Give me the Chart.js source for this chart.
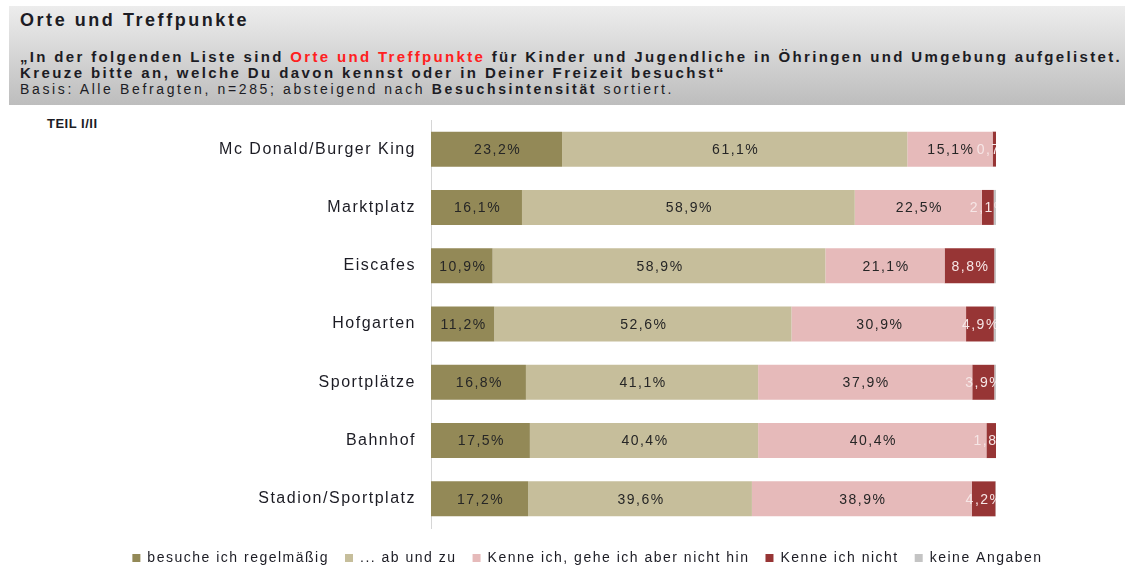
<!DOCTYPE html>
<html>
<head>
<meta charset="utf-8">
<script src="https://cdn.jsdelivr.net/npm/chart.js@4"></script>
<style>
  body { margin: 0; width: 1125px; height: 569px; background: #fff; position: relative; overflow: hidden; font-family: "Liberation Sans", Arial, sans-serif; color: #1c1c24; }
  #head { position: absolute; left: 9px; top: 6px; width: 1116px; height: 99px; background: linear-gradient(#ededed, #bdbdbd); }
  .ln { position: absolute; left: 11px; white-space: nowrap; display: inline-block; }
  #t0 { top: 4px; font-size: 18px; font-weight: bold; line-height: 20px; }
  #t1 { top: 42px; font-size: 15px; font-weight: bold; line-height: 17px; }
  #t2 { top: 58px; font-size: 15px; font-weight: bold; line-height: 17px; }
  #t3 { top: 75px; font-size: 14px; line-height: 16px; }
  .red { color: #ff2020; }
  #teil { position: absolute; left: 47px; top: 116px; font-size: 13px; font-weight: bold; letter-spacing: 0.5px; color: #1c1c24; }
  canvas { position: absolute; left: 0; top: 110px; }
</style>
</head>
<body>
<div id="head">
  <div class="ln" id="t0" data-w="229">Orte und Treffpunkte</div>
  <div class="ln" id="t1" data-w="1102">„In der folgenden Liste sind <span class="red">Orte und Treffpunkte</span> für Kinder und Jugendliche in Öhringen und Umgebung aufgelistet.</div>
  <div class="ln" id="t2" data-w="706">Kreuze bitte an, welche Du davon kennst oder in Deiner Freizeit besuchst“</div>
  <div class="ln" id="t3" data-w="654">Basis: Alle Befragten, n=285; absteigend nach <b>Besuchsintensität</b> sortiert.</div>
</div>
<div id="teil">TEIL I/II</div>
<canvas id="chart" width="1125" height="465"></canvas>
<script>
// stretch header lines to the widths seen in the picture
document.querySelectorAll('.ln').forEach(el => {
  const n = el.textContent.length
  const w = el.getBoundingClientRect().width
  el.style.letterSpacing = ((+el.dataset.w - w) / n) + 'px'
})

const categories = ['Mc Donald/Burger King', 'Marktplatz', 'Eiscafes', 'Hofgarten', 'Sportplätze', 'Bahnhof', 'Stadion/Sportplatz']
const seriesNames = ['besuche ich regelmäßig', '... ab und zu', 'Kenne ich, gehe ich aber nicht hin', 'Kenne ich nicht', 'keine Angaben']
const regelmaessig = [23.2, 16.1, 10.9, 11.2, 16.8, 17.5, 17.2]
const abUndZu = [61.1, 58.9, 58.9, 52.6, 41.1, 40.4, 39.6]
const nichtHin = [15.1, 22.5, 21.1, 30.9, 37.9, 40.4, 38.9]
const kenneNicht = [0.7, 2.1, 8.8, 4.9, 3.9, 1.8, 4.2]
const keineAngaben = [0, 0.4, 0.3, 0.4, 0.3, 0, 0.1]
const colors = ['#938957', '#c6be9b', '#e6baba', '#973535', '#c4c4c4']
const labelColors = ['#262626', '#262626', '#262626', '#f6e6e6', null]

const FONT = '"Liberation Sans", Arial, sans-serif'

const spacing = {
  id: 'spacing',
  beforeUpdate(chart) { chart.ctx.letterSpacing = '1.5px' },
  beforeDraw(chart) { chart.ctx.letterSpacing = '1.5px' }
}

const valueLabels = {
  id: 'valueLabels',
  afterDatasetsDraw(chart) {
    const ctx = chart.ctx
    const area = chart.chartArea
    ctx.save()
    ctx.beginPath()
    ctx.rect(area.left, area.top, area.right - area.left, area.bottom - area.top)
    ctx.clip()
    ctx.font = '14px ' + FONT
    ctx.letterSpacing = '1.5px'
    ctx.textAlign = 'center'
    ctx.textBaseline = 'middle'
    chart.data.datasets.forEach((ds, i) => {
      if (!labelColors[i]) return
      ctx.fillStyle = labelColors[i]
      chart.getDatasetMeta(i).data.forEach((bar, j) => {
        const v = ds.data[j]
        if (!v) return
        const x = (bar.x + bar.base) / 2
        ctx.fillText(v.toFixed(1).replace('.', ',') + '%', x + 1, bar.y + 1)
      })
    })
    ctx.restore()
  }
}

function noPad(scale) {
  scale.paddingTop = 0
  scale.paddingBottom = 0
  scale.paddingLeft = 0
  scale.paddingRight = 0
}

const allSeries = [regelmaessig, abUndZu, nichtHin, kenneNicht, keineAngaben]

new Chart(document.getElementById('chart'), {
  type: 'bar',
  data: {
    labels: categories,
    datasets: allSeries.map((d, i) => ({
      label: seriesNames[i],
      data: d,
      backgroundColor: colors[i],
      borderWidth: 0,
      categoryPercentage: 1,
      barPercentage: 0.6
    }))
  },
  options: {
    indexAxis: 'y',
    responsive: false,
    animation: false,
    devicePixelRatio: 1,
    layout: { padding: { left: 50, right: 0, top: 10, bottom: 0 } },
    scales: {
      x: {
        stacked: true, min: 0, max: 100,
        grid: { display: false },
        border: { display: false },
        ticks: { display: false },
        afterFit(scale) { noPad(scale); scale.height = 7 }
      },
      y: {
        stacked: true,
        grid: { display: false },
        border: { display: true, color: '#d6d6d6', width: 1 },
        ticks: { color: '#1c1c24', padding: 7, font: { size: 16, family: FONT } },
        afterFit(scale) { noPad(scale); scale.width = 381 }
      },
      yRight: {
        type: 'category',
        position: 'right',
        grid: { display: false },
        border: { display: false },
        ticks: { display: false },
        afterFit(scale) { noPad(scale); scale.width = 129 }
      }
    },
    plugins: {
      legend: {
        position: 'bottom',
        labels: {
          boxWidth: 8,
          boxHeight: 8,
          padding: 16,
          color: '#1c1c24',
          font: { size: 14, family: FONT }
        }
      },
      tooltip: { enabled: false }
    }
  },
  plugins: [spacing, valueLabels]
})
</script>
</body>
</html>
